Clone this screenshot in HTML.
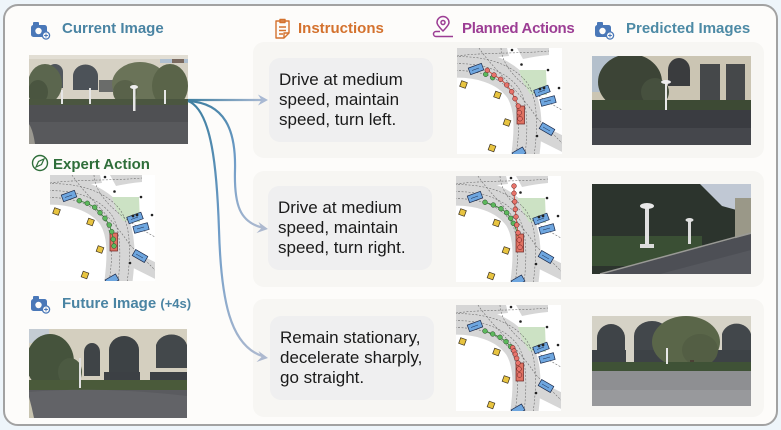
<!DOCTYPE html>
<html>
<head>
<meta charset="utf-8">
<style>
  html,body{margin:0;padding:0;}
  body{width:781px;height:430px;position:relative;overflow:hidden;background:#eef5fa;font-family:"Liberation Sans",sans-serif;}
  .frame{position:absolute;left:3px;top:4px;width:771px;height:418px;border:2px solid #a2a2a2;border-radius:15px;background:#fdfcfa;}
  .panel{position:absolute;left:253px;width:511px;background:#f7f6f3;border-radius:11px;}
  .tbox{position:absolute;width:164px;height:84px;background:#efeff0;border-radius:11px;box-sizing:border-box;padding:12px 0 0 10px;font-size:17px;line-height:20px;color:#1a1a1a;white-space:nowrap;}
  .hdr{position:absolute;font-size:15px;font-weight:bold;white-space:nowrap;line-height:18px;}
  svg.main{position:absolute;left:0;top:0;}
</style>
</head>
<body>
<div class="frame"></div>
<div class="panel" style="top:42px;height:116px;"></div>
<div class="panel" style="top:171px;height:116px;"></div>
<div class="panel" style="top:299px;height:118px;"></div>

<div class="tbox" style="left:269px;top:58px;">Drive at medium<br>speed, maintain<br>speed, turn left.</div>
<div class="tbox" style="left:268px;top:186px;">Drive at medium<br>speed, maintain<br>speed, turn right.</div>
<div class="tbox" style="left:270px;top:316px;">Remain stationary,<br>decelerate sharply,<br>go straight.</div>

<div class="hdr" style="left:62px;top:20px;color:#4a84a3;">Current Image</div>
<div class="hdr" style="left:298px;top:20px;color:#d4722e;">Instructions</div>
<div class="hdr" style="left:462px;top:20px;color:#9c3d94;letter-spacing:-0.3px;">Planned Actions</div>
<div class="hdr" style="left:626px;top:20px;color:#4d8aa5;">Predicted Images</div>
<div class="hdr" style="left:53px;top:156px;color:#2f6e3a;">Expert Action</div>
<div class="hdr" style="left:62px;top:295px;color:#4a84a3;">Future Image <span style="font-size:13px;">(+4s)</span></div>

<svg class="main" width="781" height="430" viewBox="0 0 781 430" xmlns="http://www.w3.org/2000/svg">
<defs>
  <symbol id="mapbase" viewBox="0 0 105 106">
    <rect width="105" height="106" fill="#ffffff"/>
    <path d="M0,0 H50 L52,8 Q30,10 0,14 Z" fill="#d6d6d6"/>
    <path d="M60,0 H92 V7 Q80,8 66,11 Z" fill="#d6d6d6"/>
    <path d="M-8,16 C20,14 48,22 62,42 C72,58 72,80 68,110" stroke="#d6d6d6" stroke-width="28" fill="none"/>
    <path d="M70,78 L110,98" stroke="#d6d6d6" stroke-width="15" fill="none"/>
    <polygon points="62,22 89,22 90,47 73,46 66,34" fill="#cce2c4"/>
    <g fill="none" stroke="#666" stroke-width="0.55" stroke-dasharray="2,1.5">
      <path d="M-5,9 C25,7 56,15 71,36 C81,52 81,80 77,108"/>
      <path d="M-5,23 C20,21 45,29 55,46 C63,60 63,80 59,108"/>
      <path d="M-5,16 C22,14 50,22 63,42 C71,58 71,80 68,108"/>
      <path d="M22,0 C35,20 60,40 80,70 L105,95"/>
      <path d="M44,0 C45,20 65,40 105,62"/>
      <path d="M0,8 C30,4 60,6 92,3"/>
    </g>
    <g stroke="#1c2a4a" stroke-width="0.7" fill="#6ea6df">
      <rect x="-7" y="-3.5" width="14" height="7" transform="translate(19,21) rotate(-20)"/>
      <rect x="-7.5" y="-3.5" width="15" height="7" transform="translate(85,43) rotate(-20)"/>
      <rect x="-7.5" y="-3.5" width="15" height="7" transform="translate(91,53) rotate(-15)"/>
      <rect x="-7" y="-3.5" width="14" height="7" transform="translate(90,81) rotate(30)"/>
      <rect x="-6" y="-3.5" width="12" height="7" transform="translate(62,105) rotate(-30)"/>
    </g>
    <g stroke="#1c2a4a" stroke-width="0.5">
      <line x1="15" y1="22.5" x2="22" y2="20"/>
      <line x1="81" y1="44.5" x2="88" y2="42"/>
      <line x1="87" y1="54" x2="94" y2="52"/>
      <line x1="86" y1="79" x2="93" y2="83"/>
    </g>
    <rect x="60" y="58" width="7.5" height="18" fill="#e07262" stroke="#6a2020" stroke-width="0.7"/>
    <g fill="#e8c440" stroke="#3a3020" stroke-width="0.7">
      <rect x="3.5" y="33.5" width="6" height="6" transform="rotate(20 6.5 36.5)"/>
      <rect x="37.5" y="44" width="6" height="6" transform="rotate(20 40.5 47)"/>
      <rect x="47" y="71.5" width="6" height="6" transform="rotate(20 50 74.5)"/>
      <rect x="32" y="97" width="6" height="6" transform="rotate(20 35 100)"/>
    </g>
    <g fill="#222">
      <circle cx="55" cy="2" r="1.3"/><circle cx="64.5" cy="16.5" r="1.3"/>
      <circle cx="91" cy="22" r="1.3"/><circle cx="102" cy="40" r="1.3"/>
      <circle cx="80" cy="88" r="1.3"/><circle cx="83" cy="41" r="1.4"/><circle cx="87" cy="40" r="1.4"/>
    </g>
  </symbol>
  <linearGradient id="ga1" gradientUnits="userSpaceOnUse" x1="188" y1="100" x2="265" y2="100">
    <stop offset="0" stop-color="#3f7fa0"/><stop offset="1" stop-color="#a9b9d3"/>
  </linearGradient>
  <linearGradient id="ga2" gradientUnits="userSpaceOnUse" x1="188" y1="100" x2="265" y2="228">
    <stop offset="0" stop-color="#3f7fa0"/><stop offset="0.5" stop-color="#6e9cc8"/><stop offset="1" stop-color="#adb9cf"/>
  </linearGradient>
  <linearGradient id="ga3" gradientUnits="userSpaceOnUse" x1="188" y1="100" x2="265" y2="358">
    <stop offset="0" stop-color="#3f7fa0"/><stop offset="0.5" stop-color="#6e9cc8"/><stop offset="1" stop-color="#adb9cf"/>
  </linearGradient>
  <clipPath id="c1"><rect x="29" y="55" width="159" height="89"/></clipPath>
  <clipPath id="c2"><rect x="592" y="56" width="159" height="89"/></clipPath>
  <clipPath id="c3"><rect x="592" y="184" width="159" height="90"/></clipPath>
  <clipPath id="c4"><rect x="592" y="316" width="159" height="90"/></clipPath>
  <clipPath id="c5"><rect x="29" y="329" width="158" height="89"/></clipPath>
</defs>

<!-- Current image -->
<g clip-path="url(#c1)">
  <rect x="29" y="55" width="159" height="89" fill="#d6d1c4"/>
  <rect x="160" y="55" width="28" height="8" fill="#b0c0d0"/>
  <rect x="172" y="55" width="12" height="8" fill="#7a6a60"/>
  <rect x="29" y="55" width="159" height="4" fill="#e2ded4"/>
  <path d="M47,88 V72 A8,8 0 0 1 63,72 V88 Z" fill="#50565c"/>
  <path d="M73,90 V76 A12,11 0 0 1 98,76 V90 Z" fill="#4c5258"/>
  <rect x="99" y="80" width="14" height="12" fill="#6a6c6a"/>
  <ellipse cx="45" cy="84" rx="17" ry="20" fill="#5b664e"/>
  <ellipse cx="38" cy="92" rx="10" ry="12" fill="#4a5540"/>
  <ellipse cx="140" cy="84" rx="28" ry="22" fill="#6a7358"/>
  <ellipse cx="170" cy="86" rx="18" ry="22" fill="#5a6449"/>
  <ellipse cx="125" cy="92" rx="12" ry="12" fill="#59624a"/>
  <rect x="29" y="99" width="159" height="7" fill="#4b5640"/>
  <rect x="29" y="105" width="159" height="39" fill="#4f5053"/>
  <rect x="29" y="122" width="159" height="22" fill="#58595c"/>
  <path d="M29,124 Q33,130 35,144 H29 Z" fill="#9a9890"/>
  <rect x="61" y="90" width="2" height="14" fill="#e6e6e6"/>
  <rect x="89" y="88" width="2" height="16" fill="#e6e6e6"/>
  <rect x="133" y="87" width="2.5" height="24" fill="#e6e6e6"/>
  <ellipse cx="134" cy="87" rx="4" ry="2" fill="#eeeeee"/>
  <rect x="164" y="90" width="2" height="14" fill="#e6e6e6"/>
</g>
<!-- Future image -->
<g clip-path="url(#c5)">
  <rect x="29" y="329" width="158" height="89" fill="#d4cfbf"/>
  <rect x="29" y="329" width="20" height="14" fill="#c4ccd4"/>
  <path d="M84,376 V352 A8,9 0 0 1 100,352 V376 Z" fill="#3f4447"/>
  <path d="M109,372 V350 A15,14 0 0 1 139,350 V372 Z" fill="#3d4245"/>
  <path d="M156,368 V345 A16,14 0 0 1 187,345 V368 Z" fill="#43484b"/>
  <rect x="104" y="372" width="83" height="14" fill="#3c4044"/>
  <rect x="140" y="370" width="10" height="16" fill="#d4cfbf"/>
  <ellipse cx="50" cy="362" rx="24" ry="28" fill="#45533c"/>
  <ellipse cx="70" cy="372" rx="12" ry="14" fill="#4c5a42"/>
  <rect x="29" y="380" width="158" height="13" fill="#4a5a3a"/>
  <rect x="29" y="390" width="158" height="28" fill="#5a5b5f"/>
  <path d="M29,392 Q100,386 187,396 V418 H29 Z" fill="#626367"/>
  <path d="M29,397 Q32,408 34,418 H29 Z" fill="#c8c4b0"/>
  <rect x="79" y="358" width="2" height="30" fill="#e0e0e0"/>
</g>
<!-- Predicted 1 -->
<g clip-path="url(#c2)">
  <rect x="592" y="56" width="159" height="89" fill="#cbc5b3"/>
  <rect x="592" y="56" width="40" height="36" fill="#b4c0cc"/>
  <path d="M668,86 V70 A11,12 0 0 1 690,70 V86 Z" fill="#3a3c3e"/>
  <rect x="700" y="64" width="45" height="36" fill="#45484a"/>
  <rect x="720" y="64" width="6" height="36" fill="#cbc5b3"/>
  <ellipse cx="630" cy="82" rx="32" ry="28" fill="#3c4436"/>
  <ellipse cx="655" cy="92" rx="14" ry="14" fill="#46503e"/>
  <rect x="592" y="100" width="159" height="12" fill="#3d4a34"/>
  <rect x="592" y="110" width="159" height="35" fill="#3a3c41"/>
  <rect x="592" y="128" width="159" height="17" fill="#45474c"/>
  <rect x="665" y="82" width="2" height="28" fill="#e8e8e8"/>
  <ellipse cx="666" cy="82" rx="5" ry="2" fill="#eeeeee"/>
</g>
<!-- Predicted 2 -->
<g clip-path="url(#c3)">
  <rect x="592" y="184" width="159" height="90" fill="#2c342d"/>
  <polygon points="700,184 751,184 751,214 722,206" fill="#c0c8d4"/>
  <rect x="735" y="198" width="16" height="44" fill="#9a9888"/>
  <rect x="592" y="236" width="110" height="30" fill="#3a4f34"/>
  <polygon points="600,274 751,234 751,274" fill="#4d4f55"/>
  <polygon points="660,274 751,250 751,274" fill="#56585e"/>
  <line x1="600" y1="274" x2="751" y2="233" stroke="#9a9a96" stroke-width="1.5"/>
  <rect x="645" y="206" width="4" height="40" fill="#e0e0e0"/>
  <ellipse cx="647" cy="206" rx="7" ry="3" fill="#e8e8e8"/>
  <rect x="640" y="244" width="14" height="4" fill="#dcdcdc"/>
  <rect x="688" y="220" width="3" height="24" fill="#dcdcdc"/>
  <ellipse cx="689.5" cy="220" rx="4" ry="2" fill="#e0e0e0"/>
</g>
<!-- Predicted 3 -->
<g clip-path="url(#c4)">
  <rect x="592" y="316" width="159" height="90" fill="#d5d2c6"/>
  <path d="M597,360 V338 A14,14 0 0 1 625,338 V360 Z" fill="#3f4448"/>
  <path d="M634,360 V336 A18,15 0 0 1 670,336 V360 Z" fill="#42474b"/>
  <path d="M722,358 V334 A15,14 0 0 1 751,334 V358 Z" fill="#42474b"/>
  <rect x="592" y="350" width="159" height="14" fill="#3d4246"/>
  <rect x="626" y="350" width="8" height="14" fill="#d5d2c6"/>
  <ellipse cx="686" cy="342" rx="34" ry="26" fill="#5a6649"/>
  <ellipse cx="700" cy="350" rx="18" ry="16" fill="#535e44"/>
  <rect x="690" y="360" width="4" height="16" fill="#4a4035"/>
  <rect x="592" y="362" width="159" height="10" fill="#3f5236"/>
  <rect x="592" y="371" width="159" height="35" fill="#8e8f92"/>
  <rect x="592" y="390" width="159" height="16" fill="#98999c"/>
  <rect x="666" y="348" width="2" height="16" fill="#e8e8e8"/>
</g>

<!-- maps -->
<use href="#mapbase" x="50" y="175" width="105" height="106"/>
<use href="#mapbase" x="457" y="48" width="105" height="106"/>
<use href="#mapbase" x="456" y="176" width="105" height="106"/>
<use href="#mapbase" x="456" y="305" width="105" height="106"/>

<!-- expert trajectory -->
<g transform="translate(50,175)">
  <polyline points="29.3,25.7 37.3,28.3 44.7,32.3 50,37.7 55,43.3 59.3,50 61.7,56.7 63.3,64.3 64,71" fill="none" stroke="#3c8a3c" stroke-width="1"/>
  <g fill="#5cb85c" stroke="#2a4a2a" stroke-width="0.5">
    <circle cx="29.3" cy="25.7" r="2.4"/><circle cx="37.3" cy="28.3" r="2.4"/><circle cx="44.7" cy="32.3" r="2.4"/>
    <circle cx="50" cy="37.7" r="2.4"/><circle cx="55" cy="43.3" r="2.4"/><circle cx="59.3" cy="50" r="2.4"/>
    <circle cx="61.7" cy="56.7" r="2.4"/><circle cx="63.3" cy="64.3" r="2.4"/><circle cx="64" cy="71" r="2.4"/>
  </g>
</g>
<!-- row1 trajectory -->
<g transform="translate(457,48)">
  <g fill="#5cb85c" stroke="#2a4a2a" stroke-width="0.5">
    <circle cx="28.7" cy="26.3" r="2.4"/><circle cx="35.7" cy="29.7" r="2.4"/>
  </g>
  <polyline points="30.3,22.3 37,27 43.7,31.3 49.7,37 54.7,43.7 58,50.7 61.3,58 62.3,64.7 63,70.7" fill="none" stroke="#d05040" stroke-width="1"/>
  <g fill="#e8736a" stroke="#5a2020" stroke-width="0.5">
    <circle cx="30.3" cy="22.3" r="2.4"/><circle cx="37" cy="27" r="2.4"/><circle cx="43.7" cy="31.3" r="2.4"/>
    <circle cx="49.7" cy="37" r="2.4"/><circle cx="54.7" cy="43.7" r="2.4"/><circle cx="58" cy="50.7" r="2.4"/>
    <circle cx="61.3" cy="58" r="2.4"/><circle cx="62.3" cy="64.7" r="2.4"/><circle cx="63" cy="70.7" r="2.4"/>
  </g>
</g>
<!-- row2 trajectory -->
<g transform="translate(456,176)">
  <polyline points="29,26.3 37.3,29 45,32.7 50.7,36.7 54.7,42.3 57.3,47.3 60,53 62,60" fill="none" stroke="#3c8a3c" stroke-width="1"/>
  <g fill="#5cb85c" stroke="#2a4a2a" stroke-width="0.5">
    <circle cx="29" cy="26.3" r="2.4"/><circle cx="37.3" cy="29" r="2.4"/><circle cx="45" cy="32.7" r="2.4"/>
    <circle cx="50.7" cy="36.7" r="2.4"/><circle cx="54.7" cy="42.3" r="2.4"/><circle cx="57.3" cy="47.3" r="2.4"/>
  </g>
  <polyline points="58,10 58,17.3 58.7,25.7 59.3,33.3 60,40.7 60.7,49 62,56.7 63.3,64 64,71.3" fill="none" stroke="#d05040" stroke-width="1"/>
  <g fill="#e8736a" stroke="#5a2020" stroke-width="0.5">
    <circle cx="58" cy="10" r="2.4"/><circle cx="58" cy="17.3" r="2.4"/><circle cx="58.7" cy="25.7" r="2.4"/>
    <circle cx="59.3" cy="33.3" r="2.4"/><circle cx="60" cy="40.7" r="2.4"/><circle cx="60.7" cy="49" r="2.4"/>
    <circle cx="62" cy="56.7" r="2.4"/><circle cx="63.3" cy="64" r="2.4"/><circle cx="64" cy="71.3" r="2.4"/>
  </g>
</g>
<!-- row3 trajectory -->
<g transform="translate(456,305)">
  <polyline points="29,26 36.7,29 44,32.3 50,36.7 54.7,41.7" fill="none" stroke="#3c8a3c" stroke-width="1"/>
  <g fill="#5cb85c" stroke="#2a4a2a" stroke-width="0.5">
    <circle cx="29" cy="26" r="2.4"/><circle cx="36.7" cy="29" r="2.4"/><circle cx="44" cy="32.3" r="2.4"/>
    <circle cx="50" cy="36.7" r="2.4"/><circle cx="54.7" cy="41.7" r="2.4"/>
  </g>
  <g fill="#e8736a" stroke="#5a2020" stroke-width="0.5">
    <circle cx="56.7" cy="42.7" r="2.4"/><circle cx="58" cy="46" r="2.4"/><circle cx="59.3" cy="49.3" r="2.4"/>
    <circle cx="60.7" cy="53.3" r="2.4"/><circle cx="62" cy="58" r="2.4"/><circle cx="63" cy="64" r="2.4"/><circle cx="63.5" cy="70" r="2.4"/>
  </g>
</g>

<!-- arrows -->
<path d="M188,100 L262,100" stroke="url(#ga1)" stroke-width="2.2" fill="none"/>
<polygon points="268,100 258,94.5 261.5,100 258,105.5" fill="#a9b9d3"/>
<path d="M188,101 C225,103 236,130 235,170 C234,205 240,222 262,227.5" stroke="url(#ga2)" stroke-width="2.2" fill="none"/>
<polygon points="268,229 258.5,222 261.5,228 256.5,233" fill="#adb9cf"/>
<path d="M188,101 C212,110 217,170 219,230 C221,300 230,345 262,356" stroke="url(#ga3)" stroke-width="2.2" fill="none"/>
<polygon points="268,358 258.5,351 261.5,357 256.5,362" fill="#adb9cf"/>

<!-- icons -->
<g>
  <rect x="33" y="22" width="6" height="4" rx="1" fill="#4a78b8"/>
  <rect x="31" y="25" width="16" height="12" rx="2.5" fill="#4a78b8"/>
  <circle cx="38.5" cy="31" r="3.2" fill="#fdfcfa"/>
  <circle cx="46" cy="35.5" r="3.6" fill="#fdfcfa" stroke="#4a78b8" stroke-width="1.3"/>
  <path d="M46,33.6 V37.4 M44.1,35.5 H47.9" stroke="#4a78b8" stroke-width="1"/>
</g>
<g transform="translate(564,0)">
  <rect x="33" y="22" width="6" height="4" rx="1" fill="#4a78b8"/>
  <rect x="31" y="25" width="16" height="12" rx="2.5" fill="#4a78b8"/>
  <circle cx="38.5" cy="31" r="3.2" fill="#fdfcfa"/>
  <circle cx="46" cy="35.5" r="3.6" fill="#fdfcfa" stroke="#4a78b8" stroke-width="1.3"/>
  <path d="M46,33.6 V37.4 M44.1,35.5 H47.9" stroke="#4a78b8" stroke-width="1"/>
</g>
<g transform="translate(0,274)">
  <rect x="33" y="22" width="6" height="4" rx="1" fill="#4a78b8"/>
  <rect x="31" y="25" width="16" height="12" rx="2.5" fill="#4a78b8"/>
  <circle cx="38.5" cy="31" r="3.2" fill="#fdfcfa"/>
  <circle cx="46" cy="35.5" r="3.6" fill="#fdfcfa" stroke="#4a78b8" stroke-width="1.3"/>
  <path d="M46,33.6 V37.4 M44.1,35.5 H47.9" stroke="#4a78b8" stroke-width="1"/>
</g>
<g fill="none" stroke="#d4722e" stroke-width="1.4" stroke-linejoin="round">
  <path d="M276,21 H289 V33 L284,38 H276 Z"/>
  <path d="M280,19.5 H285 V22.5 H280 Z"/>
  <path d="M279,27 H286 M279,30.5 H286 M279,34 H283"/>
  <path d="M289,33 H284 V38"/>
</g>
<g fill="none" stroke="#9c3d94" stroke-width="1.5">
  <path d="M443,31 C438,26 437,24 437,22.5 A6,6 0 0 1 449,22.5 C449,24 448,26 443,31 Z"/>
  <circle cx="443" cy="22.5" r="2"/>
  <path d="M440,31.5 H436 A2.5,2.5 0 0 0 436,36.5 H453"/>
</g>
<g>
  <circle cx="40" cy="163" r="7.5" fill="none" stroke="#2f6e3a" stroke-width="1.4"/>
  <path d="M44,159 L41.5,164.5 L36,167 L38.5,161.5 Z" fill="none" stroke="#2f6e3a" stroke-width="1.2"/>
</g>
</svg>
</body>
</html>
